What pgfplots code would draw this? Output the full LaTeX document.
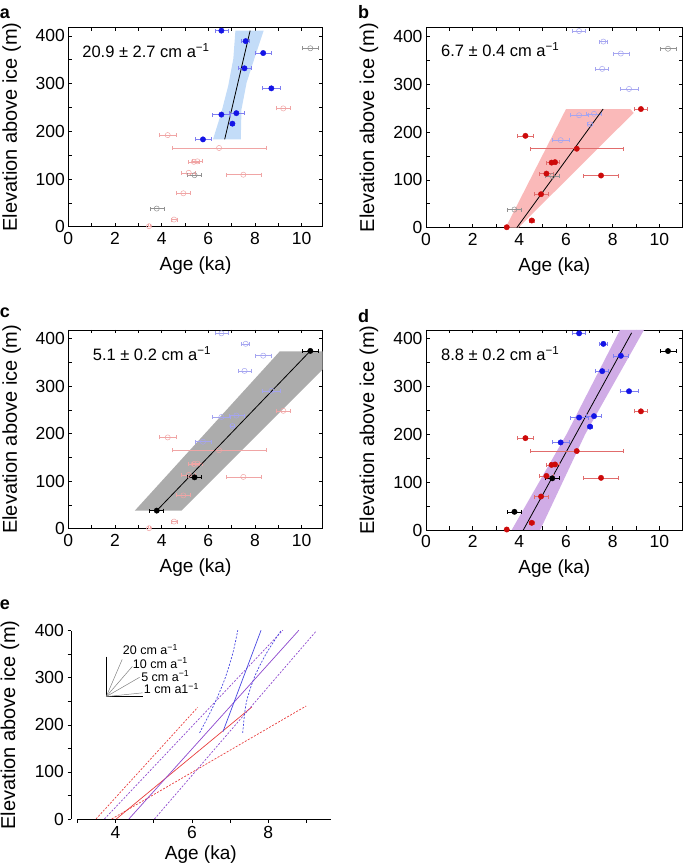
\documentclass[border=0pt]{standalone}
\usepackage{fontspec}
\setmainfont{Liberation Sans}
\usepackage{pgfplots}
\usepackage{pgfplotstable}
\pgfplotsset{compat=1.18}

\definecolor{ptblue}{RGB}{20,20,230}
\definecolor{ptred}{RGB}{205,10,10}
\definecolor{ptblack}{RGB}{0,0,0}
\definecolor{lblue}{RGB}{165,165,240}
\definecolor{lred}{RGB}{240,165,165}
\definecolor{lgray}{RGB}{145,145,145}
\definecolor{bandblue}{RGB}{195,220,248}
\definecolor{bandred}{RGB}{250,185,185}
\definecolor{bandgray}{RGB}{172,172,172}
\definecolor{bandpurple}{RGB}{208,172,230}
\definecolor{ered}{RGB}{232,60,60}
\definecolor{eblue}{RGB}{70,70,225}
\definecolor{epurple}{RGB}{140,70,205}

\pgfplotstableread{
x y ex
6.56 411 0.28
7.60 389 0.17
8.35 364 0.34
7.55 332 0.28
8.70 290 0.38
6.56 235 0.38
7.20 238 0.32
7.03 216 0.10
5.77 183 0.35
}\bluedata

\pgfplotstableread{
x y ex
9.21 248 0.28
4.26 192 0.35
6.46 165 2.00
5.38 136 0.22
5.53 137 0.20
5.16 113 0.30
7.50 109 0.75
4.93 70 0.30
4.53 15 0.12
3.46 1 0.05
}\reddata

\pgfplotstableread{
x y ex
10.37 374 0.35
5.41 108 0.30
3.79 38 0.30
}\blackdata

\pgfplotsset{
 panel/.style={
  scale only axis, anchor=south west,
  xmin=0, ymin=0, ymax=418,
  xtick={0,2,4,6,8,10}, minor xtick={1,3,5,7,9,11},
  ytick={0,100,200,300,400}, minor ytick={50,150,250,350},
  tick align=inside,
  major tick length=3.5pt, minor tick length=3.5pt,
  every tick/.style={black, line width=0.6pt},
  axis line style={line width=0.8pt, black},
  /pgf/number format/assume math mode=true,
  ticklabel style={font=\fontsize{17.5}{18}\selectfont},
  xticklabel style={yshift=-2pt},
  xlabel={Age (ka)}, ylabel={Elevation above ice (m)},
  xlabel style={font=\fontsize{19}{20}\selectfont, at={(axis description cs:0.5,-0.195)}, anchor=center},
  ylabel style={font=\fontsize{20}{20}\selectfont, at={(axis description cs:-0.222,0.5)}, anchor=center},
 },
 filled/.style 2 args={only marks, mark=*, mark size=2.7pt, color=#1,
  mark options={fill=#1, draw=#1},
  error bars/.cd, x dir=both, x explicit,
  error bar style={color=#2, line width=0.6pt},
  error mark options={rotate=90, color=#2, mark size=2pt, line width=0.6pt}},
 hollow/.style={only marks, mark=o, mark size=2.6pt, color=#1,
  mark options={draw=#1, line width=0.5pt},
  error bars/.cd, x dir=both, x explicit,
  error bar style={color=#1, line width=0.5pt},
  error mark options={rotate=90, color=#1, mark size=2pt, line width=0.5pt}},
 fitline/.style={black, line width=0.8pt, no marks},
}

\newcommand{\ann}{\fontsize{16.5}{17}\selectfont}
\newcommand{\keyf}{\fontsize{12.5}{13}\selectfont}
\newcommand{\plab}{\fontsize{18}{18}\selectfont\bfseries}

\begin{document}
\begin{tikzpicture}
\path[use as bounding box] (0pt,0pt) rectangle (685pt,865pt);

% ---------------- panel a
\begin{axis}[panel, at={(68.3pt,638.3pt)}, width=254.4pt, height=199.4pt, xmax=10.9]
\addplot[fill=bandblue, draw=none] coordinates {(6.20,183) (6.55,238) (6.85,295) (7.07,352) (7.16,411) (8.37,411) (7.97,352) (7.64,302) (7.42,246) (7.39,183)} -- cycle;
\addplot[hollow=lred] table[x=x, y=y, x error=ex] {\reddata};
\addplot[hollow=lgray] table[x=x, y=y, x error=ex] {\blackdata};
\addplot[fitline] coordinates {(6.70,183) (7.79,411)};
\addplot[filled={ptblue}{ptblue!55}] table[x=x, y=y, x error=ex] {\bluedata};
\node[anchor=west, font=\ann] at (axis cs:0.45,369) {20.9 ± 2.7 cm a\textsuperscript{−1}};
\end{axis}

% ---------------- panel b
\begin{axis}[panel, at={(426pt,637.3pt)}, width=256.7pt, height=200pt, xmax=11]
\addplot[fill=bandred, draw=none] coordinates {(3.41,0) (3.96,0) (8.9,240) (8.75,248) (6.0,248)} -- cycle;
\addplot[hollow=lblue] table[x=x, y=y, x error=ex] {\bluedata};
\addplot[hollow=lgray] table[x=x, y=y, x error=ex] {\blackdata};
\addplot[fitline] coordinates {(3.89,0) (7.59,248)};
\addplot[filled={ptred}{ptred!60}] table[x=x, y=y, x error=ex] {\reddata};
\node[anchor=west, font=\ann] at (axis cs:0.5,372) {6.7 ± 0.4 cm a\textsuperscript{−1}};
\end{axis}

% ---------------- panel c
\begin{axis}[panel, at={(68.3pt,336.3pt)}, width=254.4pt, height=198.7pt, xmax=10.9]
\addplot[fill=bandgray, draw=none] coordinates {(2.85,38) (4.85,38) (11,340) (11,373) (9.06,373)} -- cycle;
\addplot[hollow=lblue] table[x=x, y=y, x error=ex] {\bluedata};
\addplot[hollow=lred] table[x=x, y=y, x error=ex] {\reddata};
\addplot[fitline] coordinates {(3.79,38) (10.37,374)};
\addplot[filled={ptblack}{ptblack}] table[x=x, y=y, x error=ex] {\blackdata};
\node[anchor=west, font=\ann] at (axis cs:0.9,368) {5.1 ± 0.2 cm a\textsuperscript{−1}};
\end{axis}

% ---------------- panel d
\begin{axis}[panel, at={(426pt,335pt)}, width=256.7pt, height=200pt, xmax=11]
\addplot[fill=bandpurple, draw=none] coordinates {(3.67,0) (4.89,0) (6.82,200) (9.34,418) (8.31,418) (6.02,200)} -- cycle;
\addplot[fitline] coordinates {(4.17,0) (8.81,412)};
\addplot[filled={ptred}{ptred!60}] table[x=x, y=y, x error=ex] {\reddata};
\addplot[filled={ptblue}{ptblue!55}] table[x=x, y=y, x error=ex] {\bluedata};
\addplot[filled={ptblack}{ptblack}] table[x=x, y=y, x error=ex] {\blackdata};
\node[anchor=west, font=\ann] at (axis cs:0.5,369) {8.8 ± 0.2 cm a\textsuperscript{−1}};
\end{axis}

% ---------------- panel e
\begin{axis}[scale only axis, anchor=south west, at={(71pt,46pt)}, width=259.6pt, height=188.3pt,
  xmin=2.835, xmax=9.63, ymin=0, ymax=400, clip=false,
  axis x line*=bottom, axis y line*=left,
  x axis line style={draw=none},
  y axis line style={-, line width=0.8pt, black},
  xtick={4,6,8}, minor xtick={3,5,7,9},
  ytick={0,100,200,300,400}, minor ytick={50,150,250,350},
  tick align=outside, major tick length=3.5pt, minor tick length=3.5pt,
  every tick/.style={black, line width=0.6pt},
  /pgf/number format/assume math mode=true,
  ticklabel style={font=\fontsize{17.5}{18}\selectfont},
  xlabel={Age (ka)}, ylabel={Elevation above ice (m)},
  xlabel style={font=\fontsize{19}{20}\selectfont, at={(axis description cs:0.5,-0.191)}, anchor=center},
  ylabel style={font=\fontsize{20}{20}\selectfont, at={(axis description cs:-0.235,0.5)}, anchor=center},
 ]
\addplot[black, line width=0.8pt, no marks] coordinates {(3,0) (9.63,0)};
% red
\addplot[ered, line width=0.7pt, no marks] coordinates {(4.02,0) (7.57,238)};
\addplot[ered, line width=0.7pt, dash pattern=on 2pt off 1.5pt, no marks] coordinates {(3.49,0) (6.15,237)};
\addplot[ered, line width=0.7pt, dash pattern=on 2pt off 1.5pt, no marks] coordinates {(3.9,0) (8.99,240)};
% purple
\addplot[epurple, line width=0.7pt, no marks] coordinates {(4.35,0) (8.80,401)};
\addplot[epurple, line width=0.7pt, dash pattern=on 2pt off 1.5pt, no marks] coordinates {(3.71,0) (8.38,401)};
\addplot[epurple, line width=0.7pt, dash pattern=on 2pt off 1.5pt, no marks] coordinates {(5.02,0) (9.24,398)};
% blue
\addplot[eblue, line width=0.7pt, no marks] coordinates {(6.81,185) (7.81,401)};
\addplot[eblue, line width=0.7pt, dash pattern=on 2pt off 1.5pt, no marks, smooth] coordinates {(6.2,183) (6.55,238) (6.85,295) (7.07,352) (7.2,401)};
\addplot[eblue, line width=0.7pt, dash pattern=on 2pt off 1.5pt, no marks, smooth] coordinates {(7.33,183) (7.42,246) (7.64,302) (7.95,352) (8.34,401)};
% slope key
\addplot[black, line width=0.6pt, no marks] coordinates {(3.757,345) (3.757,260) (4.71,260)};
\addplot[gray, line width=0.5pt, no marks] coordinates {(3.757,260) (4.175,339)};
\addplot[gray, line width=0.5pt, no marks] coordinates {(3.757,260) (4.44,324)};
\addplot[gray, line width=0.5pt, no marks] coordinates {(3.757,260) (4.63,301)};
\addplot[gray, line width=0.5pt, no marks] coordinates {(3.757,260) (4.71,268)};
\node[anchor=west, inner sep=0pt, font=\keyf] at (axis cs:4.19,360) {20 cm a\textsuperscript{−1}};
\node[anchor=west, inner sep=0pt, font=\keyf] at (axis cs:4.45,331) {10 cm a\textsuperscript{−1}};
\node[anchor=west, inner sep=0pt, font=\keyf] at (axis cs:4.67,304) {5 cm a\textsuperscript{−1}};
\node[anchor=west, inner sep=0pt, font=\keyf] at (axis cs:4.74,277) {1 cm a1\textsuperscript{−1}};
\end{axis}

% panel letters
\node[font=\plab] at (5pt,851pt) {a};
\node[font=\plab] at (363.5pt,853pt) {b};
\node[font=\plab] at (5pt,552pt) {c};
\node[font=\plab] at (363.5pt,548.5pt) {d};
\node[font=\plab] at (5pt,260pt) {e};
\end{tikzpicture}
\end{document}
